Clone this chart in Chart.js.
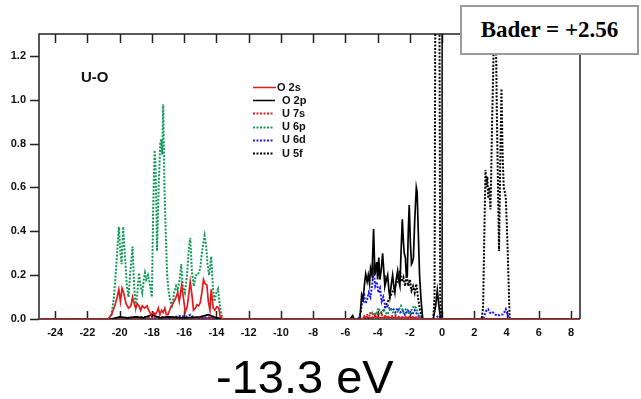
<!DOCTYPE html>
<html>
<head>
<meta charset="utf-8">
<script src="https://cdn.jsdelivr.net/npm/chart.js@4.4.1/dist/chart.umd.min.js"></script>
<style>
  html, body { margin:0; padding:0; background:#fff; }
  #wrap { position:relative; width:641px; height:399px; overflow:hidden; }
  #c { position:absolute; left:0; top:0; }
  #bader { position:absolute; left:460px; top:5px; width:179px; height:50px; box-sizing:border-box;
           border:2px solid #9a9a9a; background:#fff; font:bold 23px "Liberation Serif", "Times New Roman", serif;
           color:#000; text-align:center; line-height:46px; }
  #energy { position:absolute; left:216px; top:353px; font:47px "Liberation Sans", Arial, sans-serif;
            line-height:47px; color:#000; white-space:nowrap; }
</style>
</head>
<body>
<div id="wrap">
  <canvas id="c" width="641" height="399"></canvas>
  <div id="bader">Bader = +2.56</div>
  <div id="energy">-13.3 eV</div>
</div>
<script>
// ---- tick labels / axis ranges ----
const xTicks = [-24, -22, -20, -18, -16, -14, -12, -10, -8, -6, -4, -2, 0, 2, 4, 6, 8];
const yTicks = [0.0, 0.2, 0.4, 0.6, 0.8, 1.0, 1.2];
const xRange = [-25, 8.55];
const yRange = [0, 1.3];
const fermiE = 0;
const panelLabel = "U-O";
const seriesNames = ["O 2s", "O 2p", "U 7s", "U 6p", "U 6d", "U 5f"];

// ---- series values: [energy (eV), PDOS] ----
const o2s = [[-25,0],[-20.7,0],[-20.5,0.02],[-20.3,0.06],[-20.15,0.1],[-20.05,0.135],[-19.95,0.08],[-19.85,0.14],[-19.75,0.12],
  [-19.6,0.07],[-19.45,0.05],[-19.3,0.06],[-19.2,0.1],[-19.1,0.07],[-19.0,0.05],[-18.9,0.07],[-18.8,0.06],[-18.7,0.04],
  [-18.6,0.06],[-18.45,0.05],[-18.3,0.06],[-18.2,0.04],[-18.05,0.02],[-17.9,0.03],[-17.8,0.02],[-17.7,0.03],[-17.6,0.05],
  [-17.5,0.02],[-17.4,0.04],[-17.3,0.03],[-17.2,0.05],[-17.1,0.02],[-17.0,0.02],[-16.85,0.05],[-16.7,0.07],[-16.55,0.09],
  [-16.4,0.12],[-16.3,0.08],[-16.15,0.155],[-16.05,0.1],[-15.93,0.03],[-15.8,0.06],[-15.7,0.12],[-15.62,0.17],[-15.5,0.1],
  [-15.42,0.04],[-15.3,0.05],[-15.2,0.065],[-15.1,0.06],[-15.0,0.075],[-14.9,0.12],[-14.8,0.18],[-14.7,0.16],[-14.59,0.155],
  [-14.5,0.08],[-14.4,0.04],[-14.32,0.135],[-14.2,0.05],[-14.1,0.04],[-13.97,0.056],[-13.85,0.05],[-13.76,0.01],[-13.6,0],
  [-5.0,0],[-4.7,0.01],[-4.4,0.005],[-4.1,0.01],[-3.8,0.005],[-3.5,0.01],[-3.2,0.005],[-2.9,0.008],[-2.6,0.005],
  [-2.3,0.006],[-2.0,0.004],[-1.7,0.005],[-1.4,0.003],[-1.2,0],[8.55,0]];

const o2p = [[-25,0],[-20.5,0],[-20.0,0.01],[-19.5,0.005],[-19.0,0.01],[-18.5,0.005],[-18.0,0.02],[-17.5,0.005],[-17.0,0.01],
  [-16.0,0.005],[-15.0,0.01],[-14.5,0.02],[-14.0,0.005],[-13.6,0],
  [-5.7,0],[-5.55,0.015],[-5.45,0],[-5.1,0],[-4.99,0.11],[-4.9,0.09],[-4.8,0.17],[-4.74,0.205],[-4.65,0.17],[-4.58,0.2],
  [-4.5,0.16],[-4.44,0.23],[-4.35,0.2],[-4.25,0.41],[-4.17,0.2],[-4.06,0.26],[-4.0,0.18],[-3.93,0.28],[-3.86,0.18],[-3.78,0.22],
  [-3.69,0.3],[-3.6,0.2],[-3.55,0.15],[-3.45,0.18],[-3.38,0.2],[-3.3,0.13],[-3.24,0.1],[-3.15,0.16],[-3.07,0.2],[-3.0,0.15],
  [-2.93,0.12],[-2.85,0.18],[-2.76,0.22],[-2.68,0.17],[-2.62,0.15],[-2.55,0.3],[-2.47,0.455],[-2.4,0.35],[-2.35,0.3],
  [-2.28,0.28],[-2.22,0.2],[-2.16,0.2],[-2.1,0.4],[-2.04,0.52],[-1.97,0.35],[-1.9,0.25],[-1.84,0.26],[-1.78,0.28],[-1.7,0.45],
  [-1.6,0.6],[-1.55,0.58],[-1.48,0.4],[-1.4,0.2],[-1.3,0.08],[-1.2,0],[-0.55,0],[-0.4,0.06],[-0.3,0.13],[-0.2,0.06],[-0.1,0],[8.55,0]];

const u7s = [[-25,0],[-20.5,0],[-19.5,0.005],[-18.5,0.005],[-17,0.008],[-16,0.005],[-14,0.005],[-13.6,0],[-5,0],[-4.8,0.015],
  [-4.6,0.02],[-4.4,0.03],[-4.2,0.015],[-4.0,0.025],[-3.8,0.02],[-3.6,0.015],[-3.3,0.01],[-3.0,0.015],[-2.7,0.01],[-2.4,0.008],
  [-2.0,0.01],[-1.6,0.008],[-1.2,0],[8.55,0]];

const u6p = [[-25,0],[-20.7,0],[-20.5,0.02],[-20.35,0.1],[-20.2,0.25],[-20.05,0.42],[-19.95,0.3],[-19.88,0.25],[-19.78,0.42],
  [-19.68,0.3],[-19.55,0.15],[-19.45,0.1],[-19.35,0.2],[-19.2,0.33],[-19.1,0.15],[-19.0,0.06],[-18.92,0.1],[-18.8,0.21],
  [-18.7,0.15],[-18.6,0.12],[-18.5,0.18],[-18.43,0.21],[-18.35,0.18],[-18.24,0.2],[-18.1,0.15],[-18.0,0.1],[-17.92,0.5],
  [-17.83,0.77],[-17.78,0.72],[-17.72,0.5],[-17.68,0.31],[-17.58,0.6],[-17.48,0.8],[-17.42,0.82],[-17.36,0.75],[-17.3,0.98],
  [-17.22,0.6],[-17.13,0.365],[-17.05,0.2],[-16.97,0.13],[-16.85,0.08],[-16.75,0.05],[-16.62,0.12],[-16.5,0.15],[-16.4,0.13],
  [-16.28,0.18],[-16.18,0.25],[-16.08,0.15],[-15.95,0.12],[-15.82,0.2],[-15.7,0.33],[-15.62,0.37],[-15.52,0.22],[-15.4,0.15],
  [-15.28,0.2],[-15.15,0.2],[-15.0,0.23],[-14.9,0.3],[-14.8,0.35],[-14.73,0.38],[-14.63,0.33],[-14.55,0.25],[-14.45,0.2],
  [-14.32,0.285],[-14.22,0.15],[-14.12,0.08],[-14.0,0.12],[-13.9,0.137],[-13.78,0.06],[-13.65,0.01],[-13.55,0],
  [-5.0,0],[-4.6,0.01],[-4.3,0.03],[-4.1,0.02],[-3.95,0.05],[-3.8,0.03],[-3.6,0.04],[-3.4,0.02],[-3.2,0.05],[-3.05,0.03],
  [-2.9,0.02],[-2.7,0.04],[-2.55,0.06],[-2.4,0.03],[-2.2,0.05],[-2.05,0.02],[-1.9,0.04],[-1.75,0.06],[-1.6,0.05],[-1.45,0.02],
  [-1.25,0],[8.55,0]];

const u6d = [[-25,0],[-18.5,0],[-18,0.005],[-17.5,0.008],[-17,0.005],[-16.5,0.01],[-16.2,0.015],[-15.9,0.01],[-15.6,0.02],
  [-15.4,0.005],[-15,0.005],[-14.5,0.008],[-14,0],
  [-5.2,0],[-5.05,0.03],[-4.95,0.08],[-4.85,0.12],[-4.75,0.07],[-4.65,0.09],[-4.55,0.12],[-4.45,0.1],[-4.35,0.15],
  [-4.25,0.22],[-4.15,0.15],[-4.05,0.17],[-3.95,0.12],[-3.85,0.14],[-3.75,0.08],[-3.65,0.1],[-3.5,0.05],[-3.35,0.06],
  [-3.2,0.04],[-3.05,0.05],[-2.9,0.03],[-2.75,0.05],[-2.6,0.03],[-2.45,0.04],[-2.3,0.02],[-2.15,0.04],[-2.0,0.03],
  [-1.85,0.02],[-1.7,0.04],[-1.55,0.02],[-1.4,0.01],[-1.2,0],
  [-0.4,0],[-0.25,0.015],[-0.1,0.005],[0,0],
  [2.55,0],[2.65,0.02],[2.75,0.04],[2.85,0.045],[2.95,0.03],[3.05,0.025],[3.15,0.03],[3.3,0.02],[3.45,0.015],[3.6,0.02],
  [3.75,0.02],[3.85,0.03],[3.95,0.045],[4.05,0.02],[4.2,0],[8.55,0]];

const u5f = [[-25,0],[-20.5,0],[-19.5,0.005],[-18,0.01],[-16,0.005],[-14,0.005],[-13.6,0],
  [-4.5,0],[-4.0,0.02],[-3.7,0.03],[-3.5,0.06],[-3.3,0.09],[-3.1,0.12],[-2.9,0.15],[-2.75,0.18],[-2.62,0.22],[-2.5,0.17],
  [-2.4,0.19],[-2.3,0.15],[-2.2,0.2],[-2.1,0.15],[-2.0,0.18],[-1.9,0.13],[-1.8,0.15],[-1.7,0.12],[-1.6,0.16],[-1.5,0.1],
  [-1.4,0.05],[-1.3,0.02],[-1.2,0],
  [-0.55,0],[-0.47,0.1],[-0.42,1.5],[-0.3,4.0],[-0.17,1.5],[-0.12,0.1],[-0.05,0],
  [2.45,0],[2.54,0.05],[2.62,0.4],[2.69,0.68],[2.75,0.6],[2.8,0.65],[2.86,0.55],[2.92,0.6],[3.0,0.5],[3.1,0.9],[3.2,1.25],
  [3.3,1.5],[3.4,0.9],[3.53,0.31],[3.6,0.7],[3.68,1.05],[3.75,0.75],[3.82,0.6],[3.88,0.58],[3.95,0.55],[4.05,0.35],[4.19,0],[8.55,0]];

const seriesData = [o2s, o2p, u7s, u6p, u6d, u5f];
const seriesColors = ["#e41a1c", "#000000", "#e41a1c", "#12995a", "#1a1aff", "#000000"];
const seriesDashed = [false, false, true, true, true, true];

const toPts = arr => arr.map(p => ({x: p[0], y: p[1]}));

const datasets = seriesNames.map((name, i) => ({
  label: name,
  data: toPts(seriesData[i]),
  borderColor: seriesColors[i],
  borderWidth: seriesDashed[i] ? 2 : 1.7,
  borderDash: seriesDashed[i] ? [2, 1.5] : [],
  showLine: true, pointRadius: 0, tension: 0, fill: false
}));
datasets.push({
  label: "_fermi",
  data: [{x: fermiE, y: yRange[0]}, {x: fermiE, y: yRange[1]}],
  borderColor: "#000", borderWidth: 1.5, showLine: true, pointRadius: 0
});

const framePlugin = {
  id: "frame",
  beforeDatasetsDraw(chart) {
    const {ctx, chartArea: a, scales} = chart;
    ctx.save();
    ctx.strokeStyle = "#222"; ctx.lineWidth = 1.5;
    ctx.beginPath();
    ctx.moveTo(a.left, a.bottom); ctx.lineTo(a.left, a.top); ctx.lineTo(a.right, a.top); ctx.lineTo(a.right, a.bottom);
    ctx.moveTo(a.left, a.bottom); ctx.lineTo(a.right, a.bottom);
    xTicks.forEach(v => {
      const px = Math.round(scales.x.getPixelForValue(v)) + 0.5;
      ctx.moveTo(px, a.bottom); ctx.lineTo(px, a.bottom - 8);
      ctx.moveTo(px, a.top); ctx.lineTo(px, a.top + 9);
    });
    yTicks.forEach(v => {
      const py = Math.round(scales.y.getPixelForValue(v)) + 0.5;
      ctx.moveTo(a.left - 9, py); ctx.lineTo(a.left, py);
    });
    ctx.stroke();
    ctx.restore();
  },
  afterDatasetsDraw(chart) {
    const {ctx} = chart;
    ctx.save();
    ctx.fillStyle = "#111";
    ctx.font = 'bold 15px "Liberation Sans", Arial, sans-serif';
    ctx.textBaseline = "middle"; ctx.textAlign = "left";
    ctx.fillText(panelLabel, 81, 78);
    ctx.font = 'bold 11px "Liberation Sans", Arial, sans-serif';
    const lineEnds = [276, 275, 273, 273, 273, 273];
    const textX = [277, 282, 282, 282, 282, 282];
    seriesNames.forEach((name, i) => {
      const y = 87 + i * 13.2;
      ctx.beginPath();
      ctx.strokeStyle = seriesColors[i];
      ctx.lineWidth = seriesDashed[i] ? 2 : 1.5;
      ctx.setLineDash(seriesDashed[i] ? [2, 1.5] : []);
      ctx.moveTo(253, Math.round(y) + 0.5); ctx.lineTo(lineEnds[i], Math.round(y) + 0.5);
      ctx.stroke();
      ctx.setLineDash([]);
      ctx.fillStyle = "#111";
      ctx.fillText(name, textX[i], y + 0.5);
    });
    ctx.restore();
  }
};

new Chart(document.getElementById("c"), {
  type: "scatter",
  data: { datasets },
  options: {
    responsive: false, animation: false,
    layout: { padding: { top: 34, right: 61, left: 0, bottom: 0 } },
    plugins: { legend: { display: false }, tooltip: { enabled: false } },
    scales: {
      x: {
        type: "linear", min: xRange[0], max: xRange[1],
        grid: { display: false, drawTicks: false }, border: { display: false },
        afterBuildTicks: s => { s.ticks = xTicks.map(v => ({value: v})); },
        afterFit: s => { s.height = 80; },
        ticks: { color: "#111", padding: 7, maxRotation: 0, autoSkip: false,
                 font: { family: '"Liberation Sans", Arial, sans-serif', size: 11, weight: "bold" },
                 callback: v => String(v) }
      },
      y: {
        type: "linear", min: yRange[0], max: yRange[1],
        grid: { display: false, drawTicks: false }, border: { display: false },
        afterBuildTicks: s => { s.ticks = yTicks.map(v => ({value: v})); },
        afterFit: s => { s.width = 39; },
        ticks: { color: "#111", padding: 13, autoSkip: false,
                 font: { family: '"Liberation Sans", Arial, sans-serif', size: 11, weight: "bold" },
                 callback: v => Number(v).toFixed(1) }
      }
    }
  },
  plugins: [framePlugin]
});
</script>
</body>
</html>
